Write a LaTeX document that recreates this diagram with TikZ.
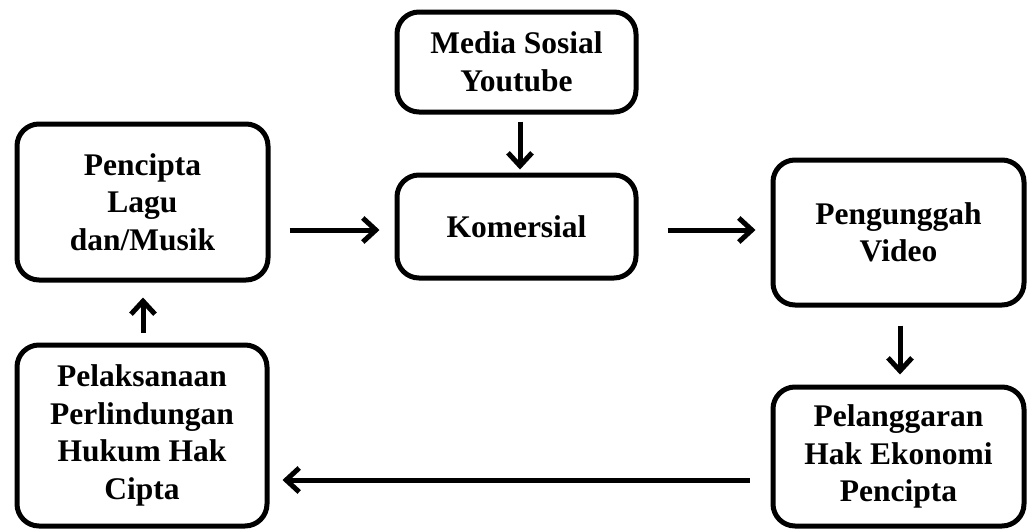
\documentclass[tikz,border=0pt]{standalone}
\usepackage{fontspec}
\setmainfont{Liberation Serif}
\usetikzlibrary{arrows.meta}
\tikzset{
  box/.style={draw=black, line width=5pt, rounded corners=22pt, align=center,
    inner sep=0pt, font=\fontsize{31.5}{37.5}\selectfont\bfseries},
  arr/.style={line width=5pt, -{Straight Barb[length=13pt,width=24pt,line width=5pt]}}
}
\begin{document}
\begin{tikzpicture}[x=1pt,y=-1pt]
\useasboundingbox (0,0) rectangle (1029,531);
\node[box, minimum width=251pt, minimum height=156pt] (p) at (142.5,202) {Pencipta\\Lagu\\dan/Musik};
\node[box, minimum width=239pt, minimum height=100pt] (m) at (516.5,62) {Media Sosial\\Youtube};
\node[box, minimum width=239pt, minimum height=103pt] (k) at (516.5,226.5) {Komersial};
\node[box, minimum width=251pt, minimum height=145pt] (g) at (898.5,232.5) {Pengunggah\\Video};
\node[box, minimum width=251pt, minimum height=139pt] (l) at (898.5,456.5) {Pelanggaran\\Hak Ekonomi\\Pencipta};
\node[box, minimum width=250pt, minimum height=181pt] (h) at (142,435.5) {Pelaksanaan\\Perlindungan\\Hukum Hak\\Cipta};
\draw[arr] ([xshift=19pt,yshift=-28pt]p.east) -- ([xshift=-15pt,yshift=-3.5pt]k.west);
\draw[arr] ([xshift=3.5pt,yshift=-7pt]m.south) -- ([xshift=3.5pt,yshift=3pt]k.north);
\draw[arr] ([xshift=29pt,yshift=-3.5pt]k.east) -- ([xshift=-15pt,yshift=2.5pt]g.west);
\draw[arr] ([xshift=1.5pt,yshift=-18pt]g.south) -- ([xshift=1.5pt,yshift=10pt]l.north);
\draw[arr] ([xshift=-21pt,yshift=-23.5pt]l.west) -- ([xshift=13pt,yshift=-44.5pt]h.east);
\draw[arr] ([xshift=1pt,yshift=10pt]h.north) -- ([xshift=0.5pt,yshift=-15pt]p.south);
\end{tikzpicture}
\end{document}
